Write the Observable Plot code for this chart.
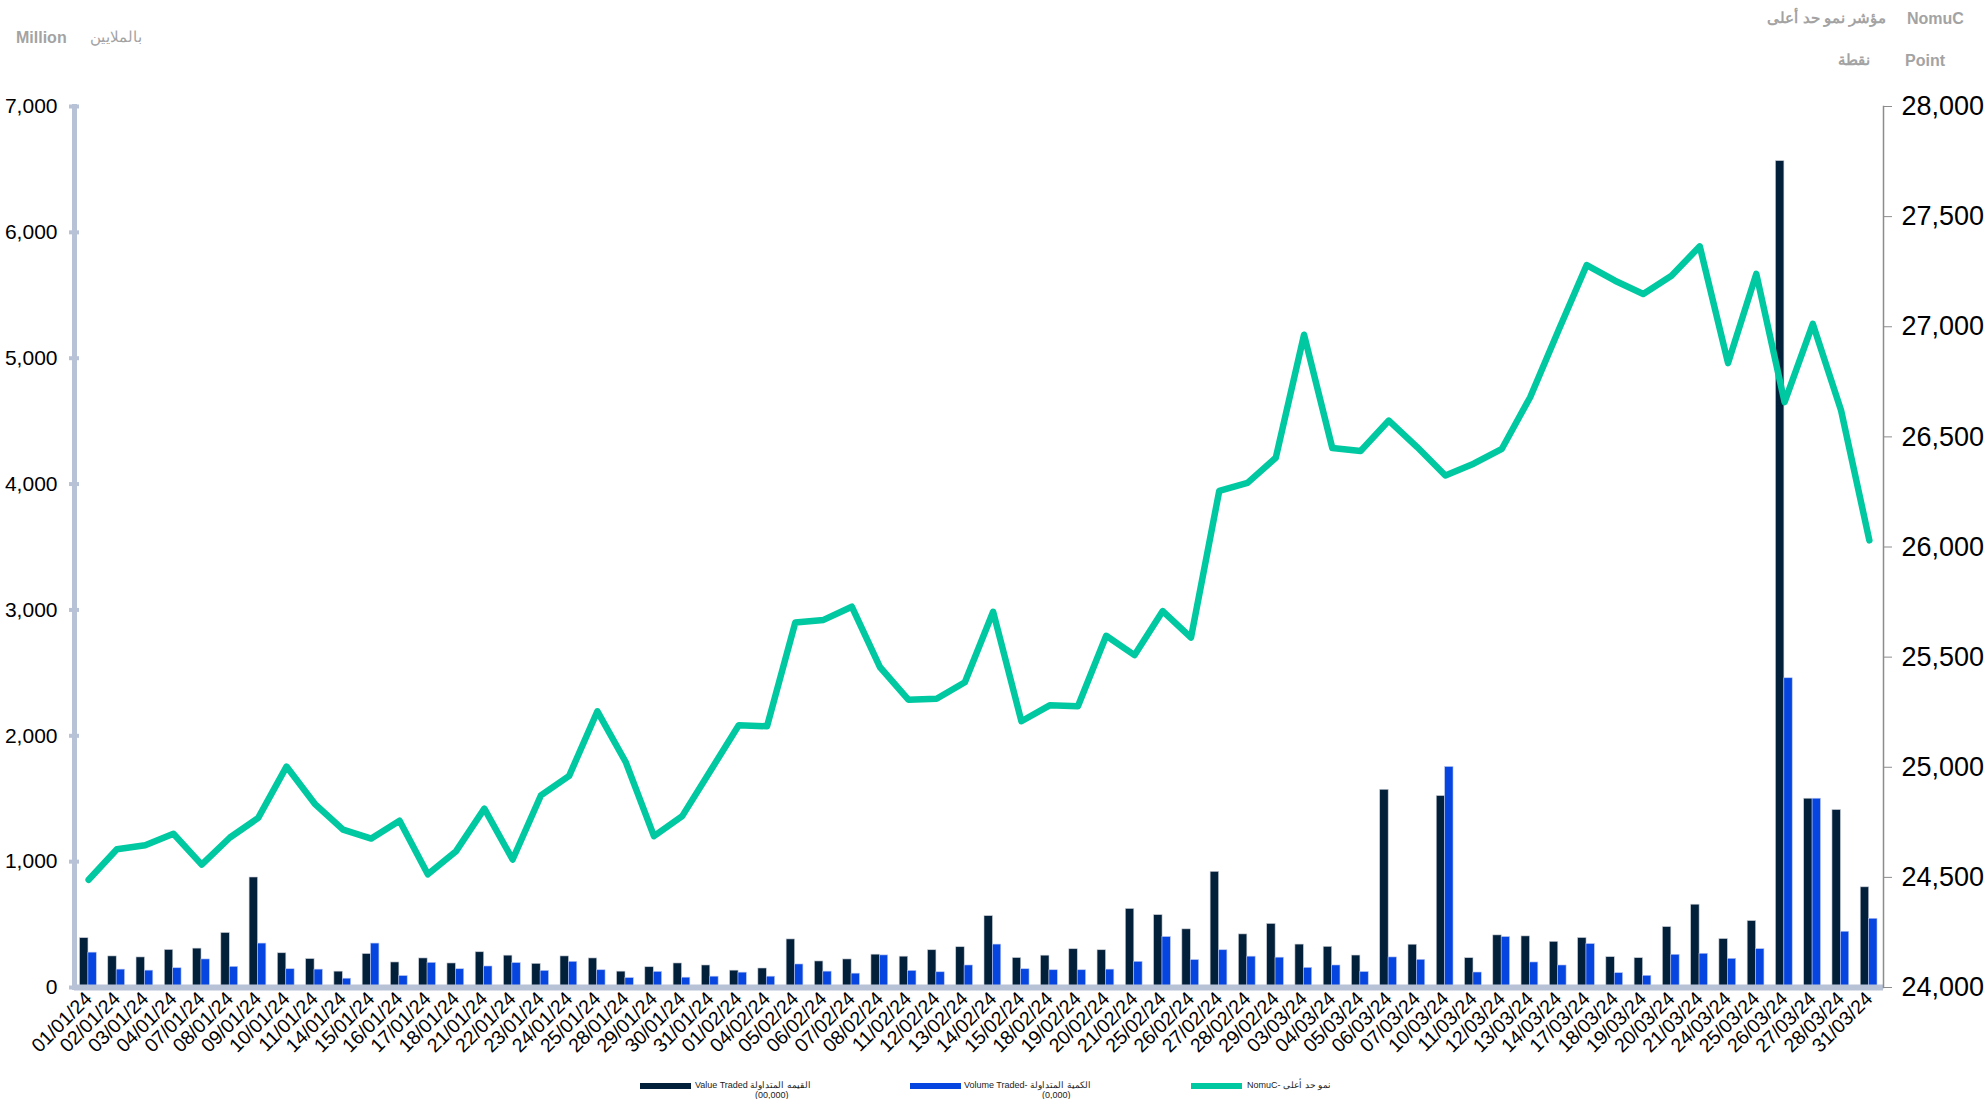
<!DOCTYPE html>
<html>
<head>
<meta charset="utf-8">
<script src="https://cdn.jsdelivr.net/npm/d3@7"></script>
<script src="https://cdn.jsdelivr.net/npm/@observablehq/plot@0.6"></script>
<style>
  body { margin: 0; background: #fff; font-family: "Liberation Sans", Arial, sans-serif; }
  #wrap { position: relative; width: 1988px; height: 1099px; overflow: hidden; background: #fff; }
  #header { position: relative; height: 90px; }
  .h { position: absolute; color: #a3a3a3; font-size: 15px; transform: translateY(-50%); white-space: nowrap; }
  .b { font-weight: bold; font-size: 16px; }
  .sw { position: absolute; height: 6px; width: 51px; }
  .lt { position: absolute; font-size: 9px; color: #222; white-space: nowrap; line-height: 10px; }
</style>
</head>
<body>
<div id="wrap">
  <div id="header">
    <span class="h b" style="left:16px; top:38px;">Million</span>
    <span class="h" style="left:90px; top:37px;">بالملايين</span>
    <span class="h b" style="left:1907px; top:19px;">NomuC</span>
    <span class="h b" style="right:102px; top:18px; font-size:15px;">مؤشر نمو حد أعلى</span>
    <span class="h b" style="left:1905px; top:61px;">Point</span>
    <span class="h b" style="right:118px; top:60px; font-size:15px;">نقطة</span>
  </div>
  <div id="chart"></div>
  <div class="sw" style="left:640px; top:1083px; background:#03203a;"></div>
  <div class="lt" style="left:695px; top:1080px;">Value Traded القيمه المتداولة<br><span style="padding-left:60px">(00,000)</span></div>
  <div class="sw" style="left:910px; top:1083px; background:#0645e0;"></div>
  <div class="lt" style="left:964px; top:1080px;">Volume Traded- الكمية المتداولة<br><span style="padding-left:78px">(0,000)</span></div>
  <div class="sw" style="left:1191px; top:1083px; background:#00c8a0;"></div>
  <div class="lt" style="left:1247px; top:1080px;">NomuC- نمو حد أعلى</div>
</div>
<script>
const dates = [
  "01/01/24","02/01/24","03/01/24","04/01/24","07/01/24","08/01/24","09/01/24","10/01/24","11/01/24","14/01/24",
  "15/01/24","16/01/24","17/01/24","18/01/24","21/01/24","22/01/24","23/01/24","24/01/24","25/01/24","28/01/24",
  "29/01/24","30/01/24","31/01/24",
  "01/02/24","04/02/24","05/02/24","06/02/24","07/02/24","08/02/24","11/02/24","12/02/24","13/02/24","14/02/24",
  "15/02/24","18/02/24","19/02/24","20/02/24","21/02/24","25/02/24","26/02/24","27/02/24","28/02/24","29/02/24",
  "03/03/24","04/03/24","05/03/24","06/03/24","07/03/24","10/03/24","11/03/24","12/03/24","13/03/24","14/03/24",
  "17/03/24","18/03/24","19/03/24","20/03/24","21/03/24","24/03/24","25/03/24","26/03/24","27/03/24","28/03/24","31/03/24"
];

// Value Traded (Million)
const valueTraded = [
  392,247,239,298,309,433,874,272,226,126,266,199,231,191,280,253,188,247,231,126,161,191,175,
  134,151,382,207,223,261,245,296,320,567,234,253,304,296,624,575,462,919,422,505,
  341,323,254,1571,340,1521,233,414,406,363,393,241,233,480,658,385,528,6566,1500,1410,796
];

// Volume Traded
const volumeTraded = [
  277,142,134,153,223,164,349,145,142,70,349,91,196,145,167,194,132,204,137,75,124,78,86,
  118,86,183,126,110,255,132,121,175,341,145,137,137,142,204,401,218,296,245,237,
  156,175,123,239,220,1752,119,401,199,175,345,114,93,260,268,228,305,2457,1500,443,546
];

// NomuC index (points)
const nomuc = [
  24489,24628,24646,24698,24558,24681,24770,25003,24834,24717,24676,24757,24514,24619,24812,24581,24872,24961,25254,25024,24687,24778,24984,
  25191,25186,25657,25669,25729,25454,25307,25311,25386,25706,25209,25281,25277,25597,25509,25709,25589,26255,26291,26405,
  26964,26449,26436,26574,26454,26325,26378,26446,26680,26983,27280,27209,27149,27232,27365,26835,27240,26658,27013,26620,26030
];

const leftTicks = [0,1000,2000,3000,4000,5000,6000,7000];
const rightTicks = [24000,24500,25000,25500,26000,26500,27000,27500,28000];

const leftMax = 7000, rightMin = 24000, rightMax = 28000;
const k = leftMax / (rightMax - rightMin);
const toLeft = v => (v - rightMin) * k;
const fmt = d3.format(",");

const rows = dates.map((d, i) => ({date: d, value: valueTraded[i], volume: volumeTraded[i], nomu: toLeft(nomuc[i])}));

const chart = Plot.plot({
  width: 1988,
  height: 985,
  marginTop: 16,
  marginBottom: 88,
  marginLeft: 74,
  marginRight: 105,
  style: {fontFamily: "'Liberation Sans', Arial, sans-serif", background: "white", color: "black"},
  x: {type: "band", domain: dates, padding: 0, round: false},
  y: {domain: [0, leftMax]},
  marks: [
    Plot.barY(rows, {x: "date", y: "value", fill: "#03203a", stroke: "#c9ced6", strokeWidth: 0.6, insetLeft: 5.5, insetRight: 14.3}),
    Plot.barY(rows, {x: "date", y: "volume", fill: "#0645e0", stroke: "#b9c6ee", strokeWidth: 0.6, insetLeft: 13.9, insetRight: 6}),
    Plot.ruleY([0], {stroke: "#b7c2d6", strokeWidth: 6}),
    Plot.frame({anchor: "left", stroke: "#b7c2d6", strokeWidth: 5}),
    Plot.frame({anchor: "right", stroke: "#8c8c8c", strokeWidth: 1.5}),
    Plot.line(rows, {x: "date", y: "nomu", stroke: "#00c8a0", strokeWidth: 6.5}),
    Plot.axisY({anchor: "left", ticks: leftTicks, tickFormat: () => "", tickSize: 10, dx: 5, stroke: "#b7c2d6", strokeWidth: 4, label: null}),
    Plot.axisY({anchor: "left", ticks: leftTicks, tickFormat: fmt, tickSize: 0, tickPadding: 17, fontSize: 21, label: null}),
    Plot.axisY({anchor: "right", ticks: rightTicks.map(toLeft), tickFormat: d => fmt(Math.round(d / k + rightMin)),
      tickSize: 8, tickPadding: 10, fontSize: 27, stroke: "#8c8c8c", label: null}),
    Plot.axisX({tickRotate: -45, fontSize: 19.5, tickSize: 0, tickPadding: 8, label: null})
  ]
});
document.getElementById("chart").appendChild(chart);
</script>
</body>
</html>
